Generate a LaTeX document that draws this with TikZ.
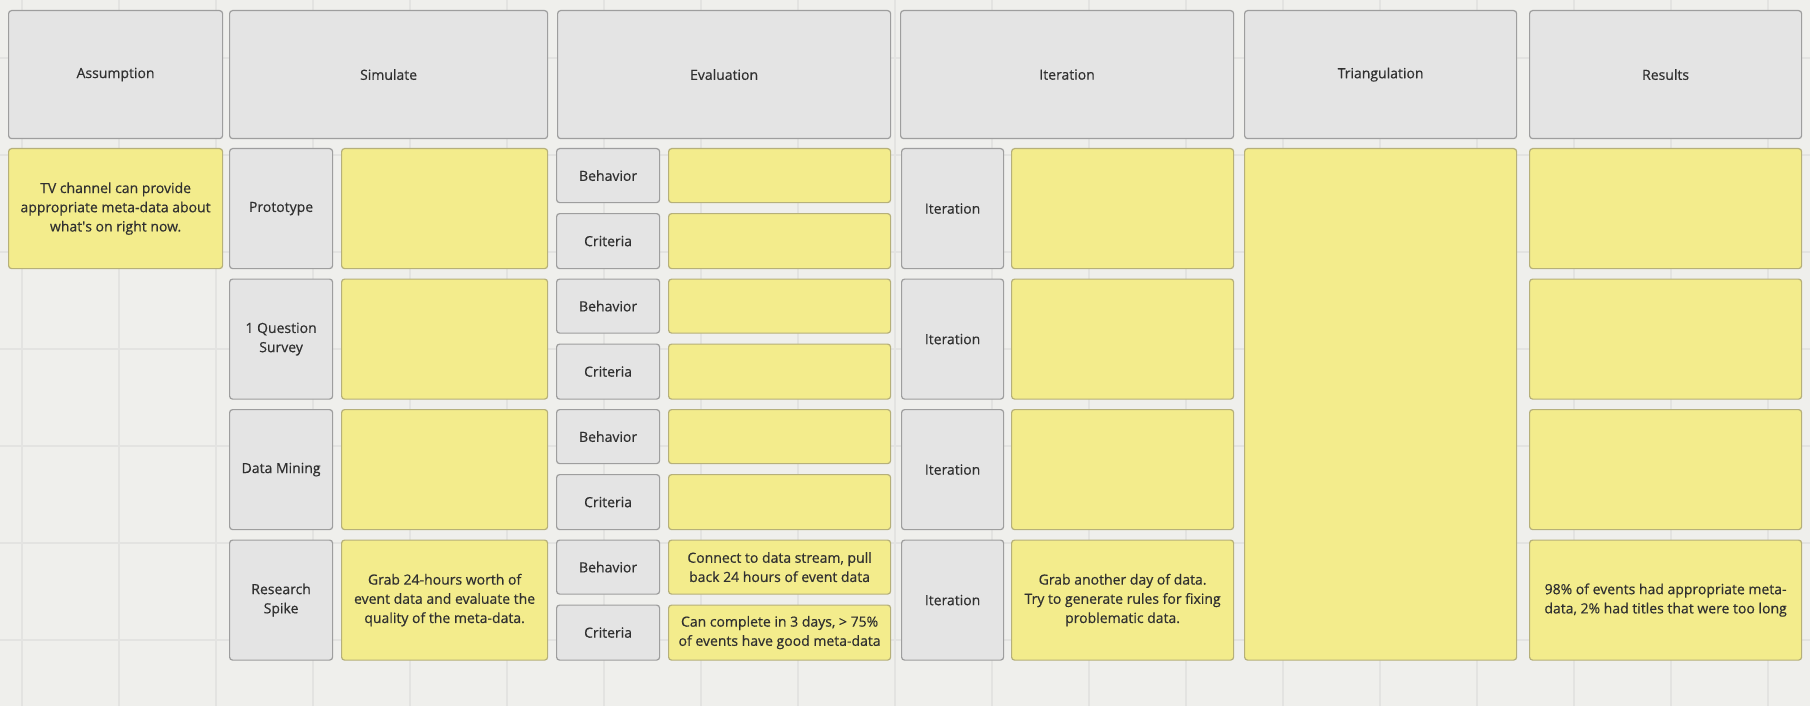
\documentclass[tikz,border=0pt]{standalone}
\usepackage{fontspec}
\setmainfont{Open Sans}
\newfontfamily\boardfont{Open Sans}[FakeBold=0.5]
\definecolor{boardbg}{RGB}{239,239,236}
\definecolor{gridline}{RGB}{227,227,225}
\definecolor{cellgray}{RGB}{228,228,228}
\definecolor{cellborder}{RGB}{158,158,158}
\definecolor{stickyyellow}{RGB}{243,236,140}
\definecolor{stickyborder}{RGB}{182,176,122}
\definecolor{inktext}{RGB}{48,48,48}
\usetikzlibrary{positioning}

\begin{document}
\begin{tikzpicture}[x=1pt, y=-1pt,
  cell/.style={draw=cellborder, fill=cellgray, rounded corners=1.5pt, anchor=north west, align=center, inner sep=2pt, line width=0.6pt, text=inktext, font=\boardfont\fontsize{7}{9.6}\selectfont},
  sticky/.style={cell, draw=stickyborder, fill=stickyyellow}]
  % Board
  \useasboundingbox (0,0) rectangle (905,353);
  \fill[boardbg] (0,0) rectangle (905,353);
  \foreach \gx in {11,59.5,...,905} \draw[gridline, line width=0.6pt] (\gx,0) -- (\gx,353);
  \foreach \gy in {29,77.5,...,353} \draw[gridline, line width=0.6pt] (0,\gy) -- (905,\gy);

  % Column headers
  \node[cell, minimum width=107pt, minimum height=64pt] (assume) at (4,5) {Assumption};
  \node[cell, minimum width=159pt, minimum height=64pt] (simulate) at (114.5,5) {Simulate};
  \node[cell, minimum width=166.5pt, minimum height=64pt] (evaluate) at (278.5,5) {Evaluation};
  \node[cell, minimum width=166.5pt, minimum height=64pt] (iterate) at (450,5) {Iteration};
  \node[cell, minimum width=136pt, minimum height=64pt] (triang) at (622,5) {Triangulation};
  \node[cell, minimum width=136pt, minimum height=64pt] (results) at (764.5,5) {Results};

  % Assumption
  \node[sticky, minimum width=107pt, minimum height=60pt] (assumetxt) at (4,74) {TV channel can provide\\appropriate meta-data about\\what\textquotesingle s on right now.};

  % Rows without findings
  \foreach \i/\lbl in {1/Prototype, 2/{1 Question\\Survey}, 3/Data Mining} {
    \pgfmathsetmacro\ry{74+65.25*(\i-1)}
    \node[cell, minimum width=51.5pt, minimum height=60pt] (sim\i) at (114.5,\ry) {\lbl};
    \node[sticky, minimum width=103pt, minimum height=60pt] (simtxt\i) at (170.5,\ry) {};
    \node[cell, minimum width=51.5pt, minimum height=27pt] (beh\i) at (278,\ry) {Behavior};
    \node[sticky, minimum width=111pt, minimum height=27pt] (behtxt\i) at (334,\ry) {};
    \node[cell, minimum width=51.5pt, minimum height=27.5pt] (crit\i) at (278,\ry+32.5) {Criteria};
    \node[sticky, minimum width=111pt, minimum height=27.5pt] (crittxt\i) at (334,\ry+32.5) {};
    \node[cell, minimum width=51pt, minimum height=60pt] (iter\i) at (450.5,\ry) {Iteration};
    \node[sticky, minimum width=111pt, minimum height=60pt] (itertxt\i) at (505.5,\ry) {};
    \node[sticky, minimum width=136pt, minimum height=60pt] (res\i) at (764.5,\ry) {};
  }

  % Research spike
  \node[cell, minimum width=51.5pt, minimum height=60pt] (sim4) at (114.5,269.75) {Research\\Spike};
  \node[sticky, minimum width=103pt, minimum height=60pt] (simtxt4) at (170.5,269.75) {Grab 24-hours worth of\\event data and evaluate the\\quality of the meta-data.};
  \node[cell, minimum width=51.5pt, minimum height=27pt] (beh4) at (278,269.75) {Behavior};
  \node[sticky, minimum width=111pt, minimum height=27pt] (behtxt4) at (334,269.75) {Connect to data stream, pull\\back 24 hours of event data};
  \node[cell, minimum width=51.5pt, minimum height=27.5pt] (crit4) at (278,302.25) {Criteria};
  \node[sticky, minimum width=111pt, minimum height=27.5pt] (crittxt4) at (334,302.25) {Can complete in 3 days, > 75\%\\of events have good meta-data};
  \node[cell, minimum width=51pt, minimum height=60pt] (iter4) at (450.5,269.75) {Iteration};
  \node[sticky, minimum width=111pt, minimum height=60pt] (itertxt4) at (505.5,269.75) {Grab another day of data.\\Try to generate rules for fixing\\problematic data.};
  \node[sticky, minimum width=136pt, minimum height=60pt] (res4) at (764.5,269.75) {98\% of events had appropriate meta-\\data, 2\% had titles that were too long};

  % Triangulation
  \node[sticky, minimum width=136pt, minimum height=255.75pt] (triangtxt) at (622,74) {};
\end{tikzpicture}
\end{document}
